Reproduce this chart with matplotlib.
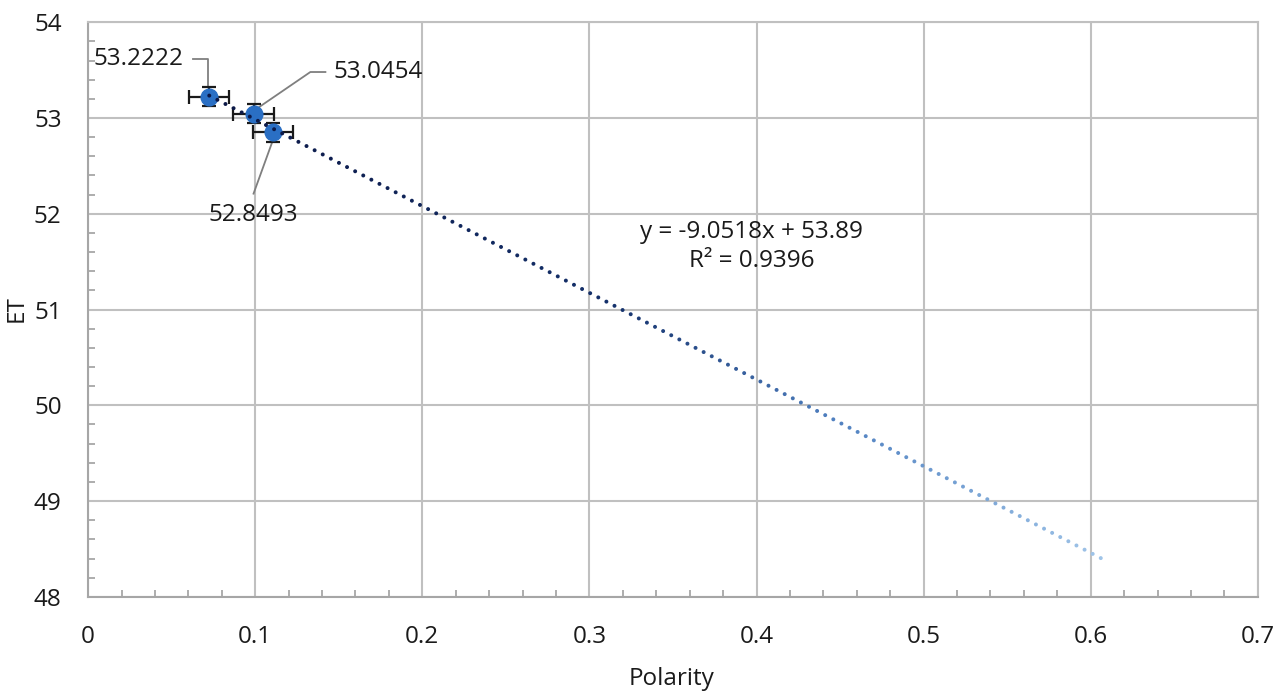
import numpy as np
import matplotlib.pyplot as plt
from matplotlib.colors import LinearSegmentedColormap
from matplotlib.ticker import MultipleLocator

plt.rcParams['font.family'] = ['Open Sans', 'DejaVu Sans']

# data
polarity = [0.0725, 0.099, 0.1106]
et = [53.2222, 53.0454, 52.8493]
x_err = [0.012, 0.012, 0.012]
y_err = [0.1, 0.1, 0.1]
labels = ['53.2222', '53.0454', '52.8493']

# trendline (as shown on chart)
slope = -9.0518
intercept = 53.89
r2 = 0.9396
forecast = 0.5

fig = plt.figure(figsize=(12.77, 6.94), dpi=100)
ax = fig.add_axes([0.069, 0.14, 0.916, 0.828])

grid_col = '#c0c0c0'
txt_col = '#1a1a1a'
fs = 17.5

# gradient dotted trendline
x0 = min(polarity)
x1 = max(polarity) + forecast
tx = np.arange(x0, x1, 0.00485)
ty = slope * tx + intercept
cmap = LinearSegmentedColormap.from_list(
    'trend', [(0, '#0b1745'), (0.45, '#14306a'), (0.7, '#4f80c0'), (1, '#9fc4e8')])
ax.scatter(tx, ty, s=8, c=(tx - x0) / (x1 - x0), cmap=cmap, zorder=4, linewidths=0)

# points with error bars
ax.errorbar(polarity, et, xerr=x_err, yerr=y_err, fmt='o', color='#2a6fc4',
            markersize=12, ecolor=txt_col, elinewidth=1.6, capsize=5, capthick=1.6,
            zorder=3)

# data labels with leader lines
lab_kw = dict(fontsize=fs, color=txt_col)
line_kw = dict(color='#7f7f7f', lw=1.3, zorder=2)
ax.plot([0.063, 0.0715, 0.0715], [53.62, 53.62, 53.32], **line_kw)
ax.text(0.057, 53.62, labels[0], ha='right', va='center', **lab_kw)
ax.plot([0.142, 0.133, 0.0995], [53.48, 53.48, 53.08], **line_kw)
ax.text(0.1467, 53.48, labels[1], ha='left', va='center', **lab_kw)
ax.plot([0.099, 0.1102], [52.21, 52.75], **line_kw)
ax.text(0.099, 51.99, labels[2], ha='center', va='center', **lab_kw)

ax.text(0.397, 51.66, 'y = -9.0518x + 53.89\nR² = 0.9396',
        ha='center', va='center', fontsize=fs, color=txt_col, linespacing=1.3)

ax.set_xlim(0, 0.7)
ax.set_ylim(48, 54)
ax.xaxis.set_minor_locator(MultipleLocator(0.02))
ax.yaxis.set_minor_locator(MultipleLocator(0.2))
ax.set_xticks(np.arange(0, 0.71, 0.1))
ax.set_xticklabels(['0', '0.1', '0.2', '0.3', '0.4', '0.5', '0.6', '0.7'])
ax.set_yticks(np.arange(48, 54.1, 1))
ax.set_yticklabels([str(v) for v in range(48, 55)])

ax.grid(True, which='major', color=grid_col, lw=1.5, zorder=0)
ax.set_axisbelow(True)
for s in ax.spines.values():
    s.set_color(grid_col)
    s.set_linewidth(1.5)
ax.spines['left'].set_color('#a6a6a6')
ax.spines['bottom'].set_color('#a6a6a6')
ax.tick_params(which='major', length=0, labelsize=fs, colors=txt_col)
ax.tick_params(axis='x', which='major', pad=20)
ax.tick_params(axis='y', which='major', pad=19)
ax.tick_params(which='minor', direction='in', length=5, color='#a0a0a0', width=1.2)

# axis titles placed in figure coords
fig.text(0.526, 0.021, 'Polarity', ha='center', va='center', fontsize=fs, color=txt_col)
fig.text(0.013, 0.555, 'ET', ha='center', va='center', rotation=90, fontsize=fs,
         color=txt_col)

fig.savefig('out.png', dpi=100)
